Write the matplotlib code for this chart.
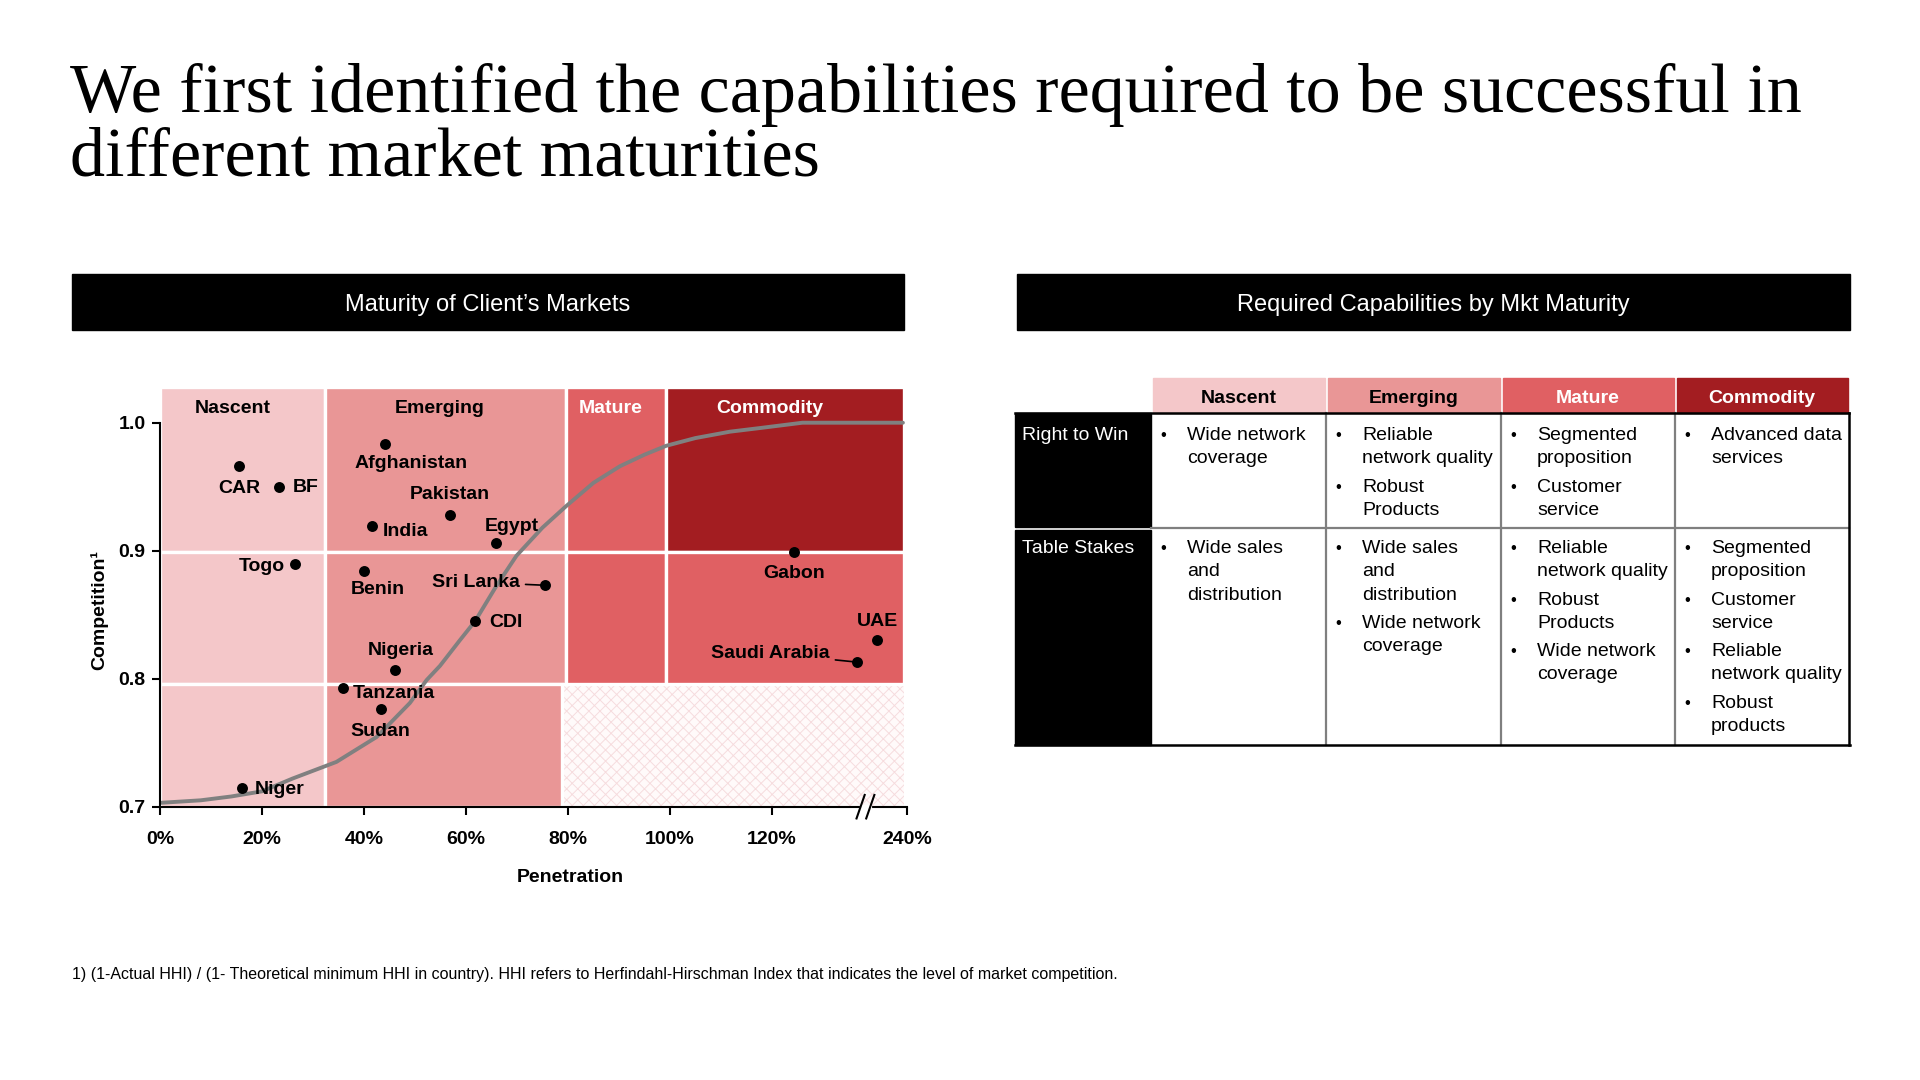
import matplotlib
matplotlib.use("Agg")
import matplotlib.pyplot as plt
from matplotlib.patches import Rectangle
import matplotlib.transforms as mtransforms

plt.rcParams['font.family'] = ['Liberation Sans', 'DejaVu Sans']
plt.rcParams['hatch.linewidth'] = 0.7

# ---------------- data ----------------
countries = ["CAR", "BF", "Togo", "Afghanistan", "Pakistan", "India", "Egypt", "Benin",
             "Sri Lanka", "CDI", "Nigeria", "Tanzania", "Sudan", "Niger", "Gabon", "UAE",
             "Saudi Arabia"]
# penetration in axis units (0-120 linear %, beyond the break 240% sits at 146.5)
penetration = [15.5, 23.3, 26.5, 44.2, 56.9, 41.6, 65.9, 40.1, 75.5, 61.8, 46.1, 35.9,
               43.3, 16.0, 124.4, 140.7, 136.6]
competition = [0.966, 0.950, 0.890, 0.983, 0.928, 0.919, 0.906, 0.884, 0.873, 0.845,
               0.807, 0.793, 0.776, 0.715, 0.899, 0.830, 0.813]

curve_x = [0, 8, 14, 20, 26, 34.6, 42.5, 49, 52.3, 54.9, 58.8, 61.8, 65.9, 69.9, 75,
           79.7, 85, 90.2, 95, 99.3, 105, 111.8, 118, 126, 135, 145.7]
curve_y = [0.703, 0.705, 0.708, 0.712, 0.722, 0.735, 0.7545, 0.781, 0.799, 0.810, 0.830,
           0.845, 0.872, 0.896, 0.918, 0.935, 0.953, 0.966, 0.975, 0.982, 0.988, 0.993,
           0.996, 1.0, 1.0, 1.0]

x_tick_pos = [0, 20, 40, 60, 80, 100, 120, 146.5]
x_tick_labels = ["0%", "20%", "40%", "60%", "80%", "100%", "120%", "240%"]
y_ticks = [0.7, 0.8, 0.9, 1.0]
y_tick_labels = ["0.7", "0.8", "0.9", "1.0"]

stages = ["Nascent", "Emerging", "Mature", "Commodity"]
stage_colors = ["#F4C7C9", "#E99696", "#E06063", "#A31D21"]
row_names = ["Right to Win", "Table Stakes"]
right_to_win = [["Wide network\ncoverage"],
                ["Reliable\nnetwork quality", "Robust\nProducts"],
                ["Segmented\nproposition", "Customer\nservice"],
                ["Advanced data\nservices"]]
table_stakes = [["Wide sales\nand\ndistribution"],
                ["Wide sales\nand\ndistribution", "Wide network\ncoverage"],
                ["Reliable\nnetwork quality", "Robust\nProducts", "Wide network\ncoverage"],
                ["Segmented\nproposition", "Customer\nservice", "Reliable\nnetwork quality",
                 "Robust\nproducts"]]

title_lines = ["We first identified the capabilities required to be successful in",
               "different market maturities"]
footnote = ("1) (1-Actual HHI) / (1- Theoretical minimum HHI in country). HHI refers to "
            "Herfindahl-Hirschman Index that indicates the level of market competition.")

# ---------------- figure ----------------
fig = plt.figure(figsize=(19.2, 10.8), dpi=100)
lay = fig.add_axes([0, 0, 1, 1])
lay.set_xlim(0, 1920)
lay.set_ylim(1080, 0)
lay.axis('off')

# title
for i, line in enumerate(title_lines):
    lay.text(70, 112 + i * 63, line, fontsize=50.5, family=['Liberation Serif'],
             va='baseline', ha='left', color='black')

# header bars
lay.add_patch(Rectangle((71.5, 274), 832.5, 56, color='black'))
lay.text(71.5 + 832.5 / 2, 305, "Maturity of Client\u2019s Markets", color='white',
         fontsize=17, ha='center', va='center')
lay.add_patch(Rectangle((1017, 274), 833, 56, color='black'))
lay.text(1017 + 833 / 2, 305, "Required Capabilities by Mkt Maturity", color='white',
         fontsize=17, ha='center', va='center')

# footnote
lay.text(72, 974, footnote, fontsize=11.5, ha='left', va='center')

# ---------------- table ----------------
col_x = [1151, 1326, 1501, 1675, 1849]
hdr_top, hdr_bot = 378, 413
row_y = [413, 528, 745]
txt_col = ['black', 'black', 'white', 'white']
for i, st in enumerate(stages):
    lay.add_patch(Rectangle((col_x[i] + 1.5, hdr_top), col_x[i + 1] - col_x[i] - 3,
                            hdr_bot - hdr_top, color=stage_colors[i]))
    lay.text((col_x[i] + col_x[i + 1]) / 2, (hdr_top + hdr_bot) / 2 + 3, st,
             fontsize=14, fontweight='bold', color=txt_col[i], ha='center', va='center')
# row label blocks
lay.add_patch(Rectangle((1015, row_y[0]), col_x[0] - 1015, row_y[1] - row_y[0] - 1,
                        color='black'))
lay.add_patch(Rectangle((1015, row_y[1] + 1.5), col_x[0] - 1015, row_y[2] - row_y[1] - 1.5,
                        color='black'))
for r, name in enumerate(row_names):
    lay.text(1022, [440, 553][r], name, color='white', fontsize=14, va='baseline',
             ha='left')
# grid lines
for cx in col_x[1:-1]:
    lay.plot([cx, cx], [row_y[0], row_y[2]], color='#7F7F7F', lw=1.6)
lay.plot([col_x[0], col_x[-1]], [row_y[1], row_y[1]], color='#7F7F7F', lw=1.6)
lay.plot([1015, col_x[-1]], [row_y[0], row_y[0]], color='black', lw=1.8)
lay.plot([1015, col_x[-1] + 1], [row_y[2], row_y[2]], color='black', lw=1.8)
lay.plot([col_x[-1], col_x[-1]], [row_y[0], row_y[2]], color='black', lw=1.8)

line_h = 23.3
item_gap = 5
for r, content in enumerate([right_to_win, table_stakes]):
    base0 = [440, 553][r]
    for c, items in enumerate(content):
        y = base0
        for item in items:
            lay.text(col_x[c] + 12, y, "\u2022", fontsize=12, va='baseline', ha='center')
            for ln in item.split("\n"):
                lay.text(col_x[c] + 36, y, ln, fontsize=14, va='baseline', ha='left')
                y += line_h
            y += item_gap

# ---------------- chart ----------------
ax = fig.add_axes([160 / 1920, 1 - 806.7 / 1080, 747 / 1920, 419.7 / 1080])
ax.set_facecolor('none')
ax.set_xlim(0, 146.5)
ax.set_ylim(0.7, 1.0279)
TOP = 1.0279

N, E, M, C = stage_colors
blocks = [
    (0, 32.45, 0.899, TOP, N), (0, 32.45, 0.796, 0.899, N), (0, 32.45, 0.7, 0.796, N),
    (32.45, 79.6, 0.899, TOP, E), (32.45, 79.6, 0.796, 0.899, E), (32.45, 78.8, 0.7, 0.796, E),
    (79.6, 99.2, 0.899, TOP, M), (79.6, 99.2, 0.796, 0.899, M),
    (99.2, 145.9, 0.899, TOP, C), (99.2, 145.9, 0.796, 0.899, M),
]
for x0, x1, y0, y1, col in blocks:
    ax.add_patch(Rectangle((x0, y0), x1 - x0, y1 - y0, facecolor=col, edgecolor='white',
                           lw=2.4, zorder=0.5))
ax.add_patch(Rectangle((78.8 + 0.3, 0.7), 145.9 - 79.1, 0.796 - 0.7 - 0.0012,
                       facecolor='#FFFAFA', edgecolor='#F6DCDE', hatch='xxx', lw=0,
                       zorder=0.4))

stage_label_pos = [(14.3, 1.011), (54.8, 1.011), (88.4, 1.011), (119.6, 1.011)]
stage_label_col = ['black', 'black', 'white', 'white']
for (lx, ly), st, col in zip(stage_label_pos, stages, stage_label_col):
    ax.text(lx, ly, st, fontsize=14, fontweight='bold', color=col, ha='center',
            va='center', zorder=5)

ax.plot(curve_x, curve_y, color='#808080', lw=2.8, zorder=2, solid_capstyle='round')
ax.scatter(penetration, competition, s=62, color='black', zorder=3, linewidths=0)

# label layout: (dx, dy in pixels, ha, connector)
label_layout = {
    "CAR": (0, -22, 'center', False), "BF": (13.6, -1, 'left', False),
    "Togo": (-10, -3, 'right', False), "Afghanistan": (26, -18.7, 'center', False),
    "Pakistan": (0, 20, 'center', False), "India": (10.4, -5, 'left', False),
    "Egypt": (15.7, 17, 'center', False), "Benin": (13.6, -18.7, 'center', False),
    "Sri Lanka": (-25, 3, 'right', True), "CDI": (13.7, -1.6, 'left', False),
    "Nigeria": (5.7, 19.3, 'center', False), "Tanzania": (9.4, -6.3, 'left', False),
    "Sudan": (0, -22, 'center', False), "Niger": (13.3, -2, 'left', False),
    "Gabon": (0, -21.3, 'center', False), "UAE": (0, 18.7, 'center', False),
    "Saudi Arabia": (-26.7, 8.7, 'right', True),
}
for name, px, cy in zip(countries, penetration, competition):
    dx, dy, ha, conn = label_layout[name]
    kw = {}
    if conn:
        kw['arrowprops'] = dict(arrowstyle='-', lw=1.2, color='black', shrinkA=2,
                                shrinkB=0)
    ax.annotate(name, (px, cy), xytext=(dx, dy), textcoords='offset pixels',
                fontsize=14, fontweight='bold', ha=ha, va='center', zorder=5, **kw)

# axes styling
for s in ['top', 'right']:
    ax.spines[s].set_visible(False)
ax.spines['left'].set_bounds(0.7, 1.0)
ax.spines['left'].set_linewidth(1.5)
ax.spines['bottom'].set_linewidth(1.5)
ax.set_xticks(x_tick_pos)
ax.set_xticklabels(x_tick_labels, fontsize=14, fontweight='bold')
ax.set_yticks(y_ticks)
ax.set_yticklabels(y_tick_labels, fontsize=14, fontweight='bold')
ax.tick_params(axis='x', direction='out', length=5.5, width=1.5, pad=12)
ax.tick_params(axis='y', direction='out', length=5.5, width=1.5, pad=5)

# axis break marker
BREAK_X = 138.3
trans = mtransforms.blended_transform_factory(ax.transData, ax.transAxes)
ax.plot([BREAK_X - 0.6, BREAK_X + 1.0], [0, 0], color='white', lw=3, transform=trans,
        clip_on=False, zorder=4)
for off in (-0.9, 1.0):
    ax.plot([BREAK_X + off - 0.8, BREAK_X + off + 0.8], [-0.028, 0.028], color='black',
            lw=1.5, transform=trans, clip_on=False, zorder=5)

fig.text(570 / 1920, 1 - 878 / 1080, "Penetration", fontsize=14, fontweight='bold',
         ha='center', va='center')
fig.text(99 / 1920, 1 - 610 / 1080, "Competition\u00b9", fontsize=14, fontweight='bold',
         ha='center', va='center', rotation=90)

fig.savefig("out.png", dpi=100, facecolor='white')
